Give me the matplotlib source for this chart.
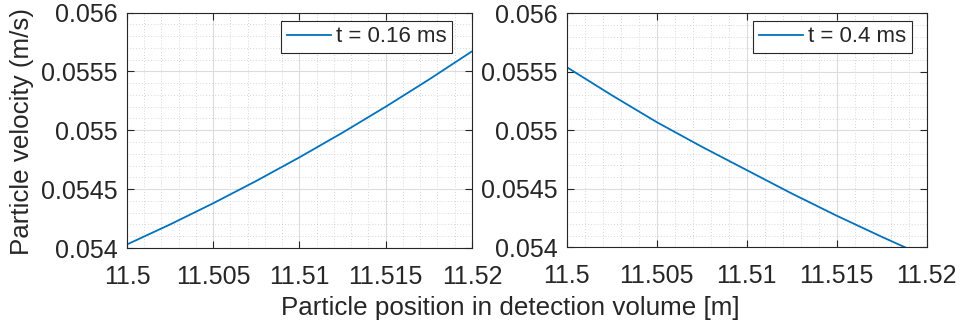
import numpy as np
import matplotlib
matplotlib.use("Agg")
import matplotlib.pyplot as plt
from matplotlib.ticker import MultipleLocator, FixedLocator

# Data
x_left = [11.5, 11.5025, 11.505, 11.5075, 11.51, 11.5125, 11.515, 11.5175, 11.52]
v_left = [0.05403, 0.05420, 0.05438, 0.05457, 0.05477, 0.05498, 0.05520, 0.05543, 0.05567]
x_right = [11.5, 11.5025, 11.505, 11.5075, 11.51, 11.5125, 11.515, 11.5175, 11.5188]
v_right = [0.05554, 0.05530, 0.05507, 0.05486, 0.05466, 0.05446, 0.05427, 0.05409, 0.05400]
labels = ["t = 0.16 ms", "t = 0.4 ms"]
xticks = [11.5, 11.505, 11.51, 11.515, 11.52]
xticklabels = ["11.5", "11.505", "11.51", "11.515", "11.52"]
yticks = [0.054, 0.0545, 0.055, 0.0555, 0.056]
yticklabels = ["0.054", "0.0545", "0.055", "0.0555", "0.056"]

plt.rcParams['font.family'] = ['Liberation Sans', 'DejaVu Sans']
TXT = '#262626'
BLUE = '#0072BD'

fig = plt.figure(figsize=(9.62, 3.29), dpi=100)
axL = fig.add_axes([0.1320, 0.2462, 0.3586, 0.7158])
axR = fig.add_axes([0.5891, 0.2483, 0.3742, 0.7113])

legend_anchor = [(0.942, 0.965), (0.958, 0.968)]

for ax, xs, vs, lab, anc in [(axL, x_left, v_left, labels[0], legend_anchor[0]),
                             (axR, x_right, v_right, labels[1], legend_anchor[1])]:
    ax.plot(xs, vs, color=BLUE, lw=1.3, label=lab, solid_joinstyle='round')
    ax.set_xlim(11.5, 11.52)
    ax.set_ylim(0.054, 0.056)
    ax.xaxis.set_major_locator(FixedLocator(xticks))
    ax.set_xticklabels(xticklabels)
    ax.yaxis.set_major_locator(FixedLocator(yticks))
    ax.set_yticklabels(yticklabels)
    ax.xaxis.set_minor_locator(MultipleLocator(0.001))
    ax.yaxis.set_minor_locator(MultipleLocator(0.0001))
    ax.grid(True, which='major', color='#dcdcdc', lw=0.8, ls='-')
    ax.grid(True, which='minor', color='#c8c8c8', lw=0.6, ls=(0, (1, 2.5)))
    ax.set_axisbelow(True)
    ax.tick_params(which='major', direction='in', length=5, width=0.8, colors=TXT,
                   labelsize=18, top=True, right=True)
    ax.tick_params(axis='x', which='major', pad=12)
    ax.tick_params(axis='y', which='major', pad=6.5)
    ax.tick_params(which='minor', length=0, top=True, right=True)
    for s in ax.spines.values():
        s.set_color(TXT)
        s.set_linewidth(0.8)
    leg = ax.legend(loc='upper right', bbox_to_anchor=anc, fontsize=16, frameon=True,
                    fancybox=False, handlelength=2.0, handletextpad=0.2, borderpad=0.25,
                    borderaxespad=0.0, edgecolor=TXT, framealpha=1)
    leg.get_frame().set_linewidth(0.8)
    for t in leg.get_texts():
        t.set_color(TXT)

fig.text(0.023, 0.600, "Particle velocity (m/s)", rotation=90, ha='center', va='center',
         fontsize=18.7, color=TXT)
fig.text(0.5307, 0.0638, "Particle position in detection volume [m]", ha='center', va='center',
         fontsize=18.7, color=TXT)

fig.savefig("out.png", dpi=100)
